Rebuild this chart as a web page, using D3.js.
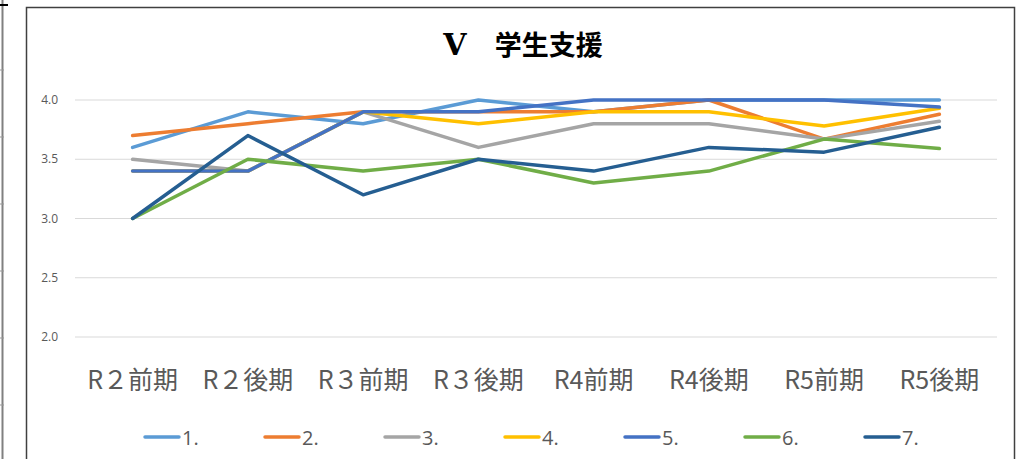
<!DOCTYPE html>
<html>
<head>
<meta charset="utf-8">
<script src="https://cdn.jsdelivr.net/npm/d3@7"></script>
<style>
  html, body { margin: 0; padding: 0; background: #fff; }
  svg { display: block; }
</style>
</head>
<body>
<div id="chart"></div>
<script>
// ---- data ----
var categories = ['R２前期', 'R２後期', 'R３前期', 'R３後期', 'R4前期', 'R4後期', 'R5前期', 'R5後期'];
var seriesNames = ['1.', '2.', '3.', '4.', '5.', '6.', '7.'];
var s1 = [3.6, 3.9, 3.8, 4.0, 3.9, 4.0, 4.0, 4.0];
var s2 = [3.7, 3.8, 3.9, 3.9, 3.9, 4.0, 3.67, 3.88];
var s3 = [3.5, 3.4, 3.9, 3.6, 3.8, 3.8, 3.67, 3.82];
var s4 = [3.4, 3.4, 3.9, 3.8, 3.9, 3.9, 3.78, 3.93];
var s5 = [3.4, 3.4, 3.9, 3.9, 4.0, 4.0, 4.0, 3.94];
var s6 = [3.0, 3.5, 3.4, 3.5, 3.3, 3.4, 3.67, 3.59];
var s7 = [3.0, 3.7, 3.2, 3.5, 3.4, 3.6, 3.56, 3.77];
var yTicks = [2.0, 2.5, 3.0, 3.5, 4.0];
var colors = ['#5B9BD5', '#ED7D31', '#A5A5A5', '#FFC000', '#4472C4', '#70AD47', '#255E91'];

var allSeries = [s1, s2, s3, s4, s5, s6, s7];

var width = 1020, height = 459;
var svg = d3.select('#chart').append('svg')
    .attr('width', width)
    .attr('height', height);

// sheet lines at the far left
svg.append('line')
    .attr('x1', 2.5).attr('x2', 2.5).attr('y1', 0).attr('y2', height)
    .style('stroke', '#808080').style('stroke-width', 2);
svg.append('line')
    .attr('x1', 0).attr('x2', 8).attr('y1', 5).attr('y2', 5)
    .style('stroke', '#000').style('stroke-width', 2);
[70, 137, 204, 271, 338, 405].forEach(function (ty) {
  svg.append('line')
      .attr('x1', 0).attr('x2', 4).attr('y1', ty).attr('y2', ty)
      .style('stroke', '#999').style('stroke-width', 1);
});

// chart frame
svg.append('rect')
    .attr('x', 26.5).attr('y', 7.5)
    .attr('width', 988).attr('height', 460)
    .style('fill', '#fff')
    .style('stroke', '#404040')
    .style('stroke-width', 1.5);

// title
var title = svg.append('text')
    .attr('x', 523).attr('y', 55)
    .attr('text-anchor', 'middle')
    .style('font-weight', 'bold')
    .style('fill', '#000');
title.append('tspan')
    .style('font-family', '"DejaVu Serif", serif')
    .style('font-size', '30px')
    .text('V');
title.append('tspan')
    .style('font-family', '"Noto Sans CJK JP", sans-serif')
    .style('font-size', '27px')
    .attr('dx', 28)
    .text('学生支援');

// scales
var x = d3.scalePoint()
    .domain(categories)
    .range([75, 997])
    .padding(0.5);

var y = d3.scaleLinear()
    .domain([2, 4])
    .range([337, 100]);

// gridlines
svg.append('g')
  .selectAll('line')
  .data(yTicks)
  .join('line')
    .attr('x1', 75).attr('x2', 997)
    .attr('y1', function (d) { return y(d); })
    .attr('y2', function (d) { return y(d); })
    .style('stroke', '#d9d9d9')
    .style('stroke-width', 1.2);

// y tick labels
svg.append('g')
  .selectAll('text')
  .data(yTicks)
  .join('text')
    .attr('x', 58)
    .attr('y', function (d) { return y(d); })
    .attr('dy', '0.35em')
    .attr('text-anchor', 'end')
    .style('font-family', '"Open Sans", "Noto Sans", sans-serif')
    .style('font-size', '12px')
    .style('fill', '#595959')
    .text(function (d) { return d3.format('.1f')(d); });

// x category labels
svg.append('g')
  .selectAll('text')
  .data(categories)
  .join('text')
    .attr('x', function (d) { return x(d); })
    .attr('y', 389)
    .attr('text-anchor', 'middle')
    .style('font-family', '"Noto Sans CJK JP", sans-serif')
    .style('font-size', '25px')
    .style('fill', '#595959')
    .text(function (d) { return d; });

// lines
var line = d3.line()
    .x(function (d, i) { return x(categories[i]); })
    .y(function (d) { return y(d); });

svg.append('g')
  .selectAll('path')
  .data(allSeries)
  .join('path')
    .attr('d', function (d) { return line(d); })
    .style('fill', 'none')
    .style('stroke', function (d, i) { return colors[i]; })
    .style('stroke-width', 3.5)
    .style('stroke-linejoin', 'round')
    .style('stroke-linecap', 'round');

// legend
var legend = svg.append('g')
  .selectAll('g')
  .data(seriesNames)
  .join('g')
    .attr('transform', function (d, i) { return 'translate(' + (145 + i * 120) + ',437)'; });

legend.append('line')
    .attr('x1', 0).attr('x2', 34)
    .attr('y1', 0).attr('y2', 0)
    .style('stroke', function (d, i) { return colors[i]; })
    .style('stroke-width', 3.5)
    .style('stroke-linecap', 'round');

legend.append('text')
    .attr('x', 37)
    .attr('y', 8)
    .style('font-family', '"Open Sans", "Noto Sans", sans-serif')
    .style('font-size', '20px')
    .style('fill', '#595959')
    .text(function (d) { return d; });
</script>
</body>
</html>
